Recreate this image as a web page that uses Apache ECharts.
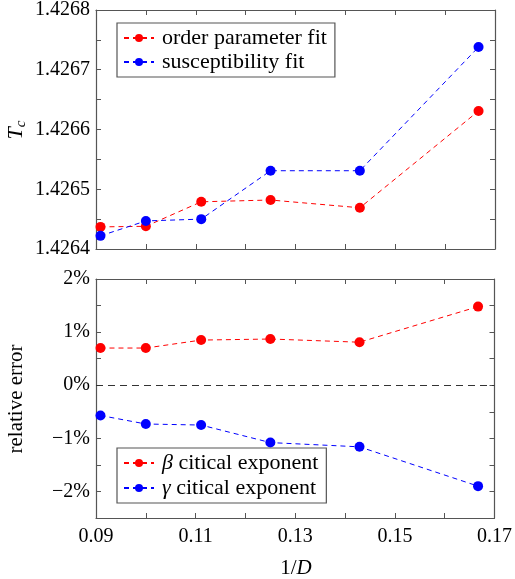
<!DOCTYPE html>
<html>
<head>
<meta charset="utf-8">
<script src="https://cdn.jsdelivr.net/npm/echarts@6/dist/echarts.min.js"></script>
<style>
  html, body { margin: 0; padding: 0; background: #fff; }
  #chart { width: 515px; height: 579px; }
</style>
</head>
<body>
<div id="chart"></div>
<script>
// x values: 1/D for D = 11 .. 6
const invD = [0.0909, 0.1, 0.1111, 0.125, 0.1429, 0.1667];
// top panel: critical temperature
const tcOrder = [1.426437, 1.426438, 1.426479, 1.426482, 1.426469, 1.426631];
const tcSusc = [1.426422, 1.426447, 1.426450, 1.426531, 1.426531, 1.426738];
// bottom panel: relative error in %
const errBeta = [0.70, 0.70, 0.85, 0.87, 0.81, 1.48];
const errGamma = [-0.57, -0.73, -0.75, -1.08, -1.16, -1.90];
// tick labels
const xTicks = ['0.09', '0.11', '0.13', '0.15', '0.17'];
const tcTicks = ['1.4264', '1.4265', '1.4266', '1.4267', '1.4268'];
const errTicks = ['\u22122%', '\u22121%', '0%', '1%', '2%'];

const FONT = '"Liberation Serif", "DejaVu Serif", serif';
const FRAME = '#555';
const RED = '#ff0000';
const BLUE = '#0000ff';

const chart = echarts.init(document.getElementById('chart'), null, { renderer: 'canvas' });

function pair(xs, ys) {
  return xs.map((x, i) => [x, ys[i]]);
}

const tickStyle = { show: true, inside: true, length: 5, lineStyle: { color: FRAME, width: 1 } };
const lineStyleAxis = { show: true, onZero: false, lineStyle: { color: FRAME, width: 1.2 } };

// labels are shown every second tick, starting at `first`
function labelFn(first, step, ticks) {
  return function (v) {
    const k = Math.round((v - first) / step);
    return (k >= 0 && k % 2 === 0) ? (ticks[k / 2] || '') : '';
  };
}

function xAxisDef(grid, pos, labels) {
  return {
    gridIndex: grid, type: 'value', position: pos,
    min: 0.09, max: 0.17, interval: 0.01,
    axisLine: lineStyleAxis, axisTick: tickStyle, splitLine: { show: false },
    axisLabel: labels ? {
      show: true, margin: 9, color: '#000', fontFamily: FONT, fontSize: 20,
      showMinLabel: true, showMaxLabel: true,
      formatter: labelFn(0.09, 0.01, xTicks)
    } : { show: false }
  };
}

function yAxisDef(grid, pos, min, max, step, first, ticks) {
  return {
    gridIndex: grid, type: 'value', position: pos,
    min: min, max: max, interval: step,
    axisLine: lineStyleAxis, axisTick: tickStyle, splitLine: { show: false },
    axisLabel: ticks ? {
      show: true, margin: 6, color: '#000', fontFamily: FONT, fontSize: 20,
      showMinLabel: true, showMaxLabel: true,
      formatter: labelFn(first, step, ticks)
    } : { show: false }
  };
}

function seriesDef(name, xi, yi, data, color) {
  return {
    name: name, type: 'line', xAxisIndex: xi, yAxisIndex: yi,
    data: data, symbol: 'circle', symbolSize: 10,
    itemStyle: { color: color },
    lineStyle: { color: color, width: 1, type: [5, 4] },
    animation: false
  };
}

const legendBase = {
  orient: 'vertical', backgroundColor: '#fff',
  borderColor: FRAME, borderWidth: 1.2, borderRadius: 0,
  itemWidth: 30, itemHeight: 10, itemGap: 2,
  padding: [4, 8, 4, 6],
  textStyle: {
    fontFamily: FONT, fontSize: 22, color: '#000', padding: [0, 0, 0, 3],
    rich: { i: { fontFamily: FONT, fontSize: 22, fontStyle: 'italic', color: '#000' } }
  }
};

const option = {
  animation: false,
  grid: [
    { left: 96, top: 10, width: 399, height: 239, show: false },
    { left: 96, top: 279, width: 399, height: 239, show: false }
  ],
  xAxis: [
    xAxisDef(0, 'bottom', false),
    xAxisDef(0, 'top', false),
    xAxisDef(1, 'bottom', true),
    xAxisDef(1, 'top', false)
  ],
  yAxis: [
    yAxisDef(0, 'left', 1.4264, 1.4268, 0.00005, 1.4264, tcTicks),
    yAxisDef(0, 'right', 1.4264, 1.4268, 0.00005, 1.4264, null),
    yAxisDef(1, 'left', -2.5, 2, 0.5, -2, errTicks),
    yAxisDef(1, 'right', -2.5, 2, 0.5, -2, null)
  ],
  legend: [
    Object.assign({}, legendBase, {
      left: 117, top: 23,
      data: ['order parameter fit', 'susceptibility fit']
    }),
    Object.assign({}, legendBase, {
      left: 117, top: 448, itemGap: 3,
      data: ['beta', 'gamma'],
      formatter: function (n) {
        return n === 'beta' ? '{i|\u03b2} citical exponent' : '{i|\u03b3} citical exponent';
      }
    })
  ],
  series: [
    seriesDef('order parameter fit', 0, 0, pair(invD, tcOrder), RED),
    seriesDef('susceptibility fit', 0, 0, pair(invD, tcSusc), BLUE),
    Object.assign(seriesDef('beta', 2, 2, pair(invD, errBeta), RED), {
      markLine: {
        silent: true, symbol: 'none', label: { show: false },
        lineStyle: { color: '#333', width: 1.2, type: [7, 5] },
        data: [{ yAxis: 0 }]
      }
    }),
    seriesDef('gamma', 2, 2, pair(invD, errGamma), BLUE)
  ],
  graphic: [
    {
      type: 'text', x: 16, y: 130, rotation: Math.PI / 2,
      style: {
        text: '{t|T}{s|c}', align: 'center', verticalAlign: 'middle',
        rich: {
          t: { fontFamily: FONT, fontSize: 22, fontStyle: 'italic', fill: '#000' },
          s: { fontFamily: FONT, fontSize: 15, fontStyle: 'italic', fill: '#000', padding: [10, 0, 0, 0] }
        }
      }
    },
    {
      type: 'text', x: 16, y: 399, rotation: Math.PI / 2,
      style: {
        text: 'relative error', align: 'center', verticalAlign: 'middle',
        fontFamily: FONT, fontSize: 21, fill: '#000'
      }
    },
    {
      type: 'text', x: 296, y: 568,
      style: {
        text: '1/{i|D}', align: 'center', verticalAlign: 'middle',
        fontFamily: FONT, fontSize: 21, fill: '#000',
        rich: { i: { fontFamily: FONT, fontSize: 21, fontStyle: 'italic', fill: '#000' } }
      }
    }
  ]
};

chart.setOption(option);
</script>
</body>
</html>
